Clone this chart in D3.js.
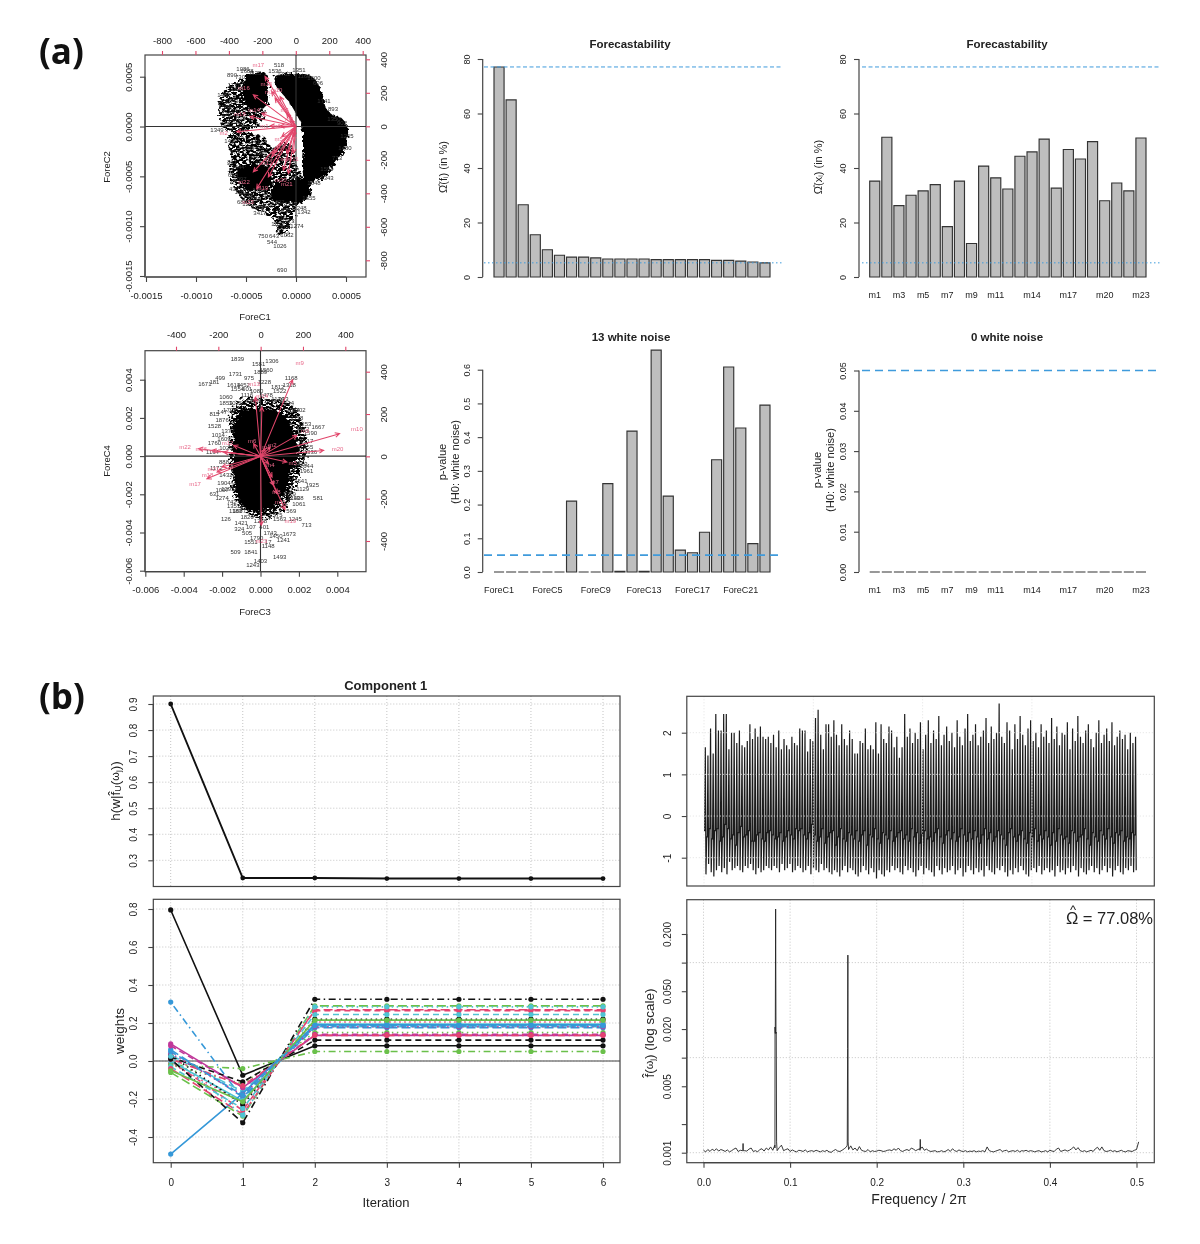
<!DOCTYPE html>
<html>
<head>
<meta charset="utf-8">
<script src="https://cdn.jsdelivr.net/npm/d3@7"></script>
<style>
html,body {margin:0;padding:0;background:#fff;}
svg {display:block;filter:blur(0.35px);}
text {font-family:"Liberation Sans",Arial,sans-serif;fill:#222;}
</style>
</head>
<body>
<div id="Chart"></div>
<script>
//---- values ----
var ComponentForecast = [77.08,65,26.5,15.5,10,8,7.3,7.3,7,6.6,6.6,6.6,6.6,6.4,6.4,6.4,6.4,6.4,6.1,6.1,5.8,5.5,5.2];
var SeriesForecast = [35.2,51.3,26.2,30,31.6,33.9,18.5,35.2,12.3,40.7,36.4,32.3,44.3,45.9,50.6,32.6,46.8,43.3,49.7,28,34.5,31.6,51];
var ComponentPValues = [0,0,0,0,0,0,0.21,0,0,0.262,0.002,0.418,0.002,0.658,0.225,0.065,0.057,0.118,0.333,0.608,0.427,0.084,0.495];
var SeriesPValues = [0,0,0,0,0,0,0,0,0,0,0,0,0,0,0,0,0,0,0,0,0,0,0];
var ComponentNames = ["ForeC1","ForeC2","ForeC3","ForeC4","ForeC5","ForeC6","ForeC7","ForeC8","ForeC9","ForeC10","ForeC11","ForeC12","ForeC13","ForeC14","ForeC15","ForeC16","ForeC17","ForeC18","ForeC19","ForeC20","ForeC21","ForeC22","ForeC23"];
var SeriesNames = ["m1","m2","m3","m4","m5","m6","m7","m8","m9","m10","m11","m12","m13","m14","m15","m16","m17","m18","m19","m20","m21","m22","m23"];
var ComponentTickNames = ["ForeC1","ForeC5","ForeC9","ForeC13","ForeC17","ForeC21"];
var SeriesTickNames = ["m1","m3","m5","m7","m9","m11","m14","m17","m20","m23"];

var LoadingsC1 = [-154,-354,-134,-54,-84,-94,-14,-34,-54,-94,-14,-144,-124,-204,-144,-254,-184,-274,-164,-74,-44,-254,-234];
var LoadingsC2 = [2,-32,-162,78,-62,2,-62,38,-162,178,-162,-182,168,78,208,188,298,58,-302,-262,-282,-272,-372];
var LoadingsC3 = [22,46,172,38,124,-33,54,61,151,373,77,-128,-25,6,-175,-230,-254,-206,115,298,-183,-293,3];
var LoadingsC4 = [36,44,99,-35,-27,60,-98,-137,362,107,-176,52,280,233,20,28,-106,-74,-252,28,-50,36,-326];

// outlines of the solid black parts of the two label clouds
var CloudC12Main = [[-0.00021,0.0005],[-0.00006,0.00053],[0.00016,0.0005],[0.00026,0.00034],[0.0003,0.00019],[0.00036,0.00012],[0.00046,0.00008],[0.00052,-0.00004],[0.00048,-0.00025],[0.0004,-0.00036],[0.00026,-0.00052],[0.00011,-0.00056],[0.00006,-0.0004],[0.00007,-0.0002],[0.00006,0],[0.00001,0.00011],[-0.00008,0.00026],[-0.00019,0.0004]];
var CloudC12Left = [[-0.00049,0.00052],[-0.0003,0.00053],[-0.00028,0.00035],[-0.0003,0.00021],[-0.00042,0.00016],[-0.00052,0.00026]];
var CloudC12LowA = [[-0.00058,-0.00042],[-0.00027,-0.00042],[-0.00027,-0.00062],[-0.00051,-0.00062]];
var CloudC12LowB = [[-0.00023,-0.0006],[0.00013,-0.00054],[0.00012,-0.00072],[-0.00023,-0.00074]];
var CloudC12GreyUp = [[-0.00072,0.00035],[-0.00049,0.0005],[-0.00029,0.00051],[-0.00029,0.00023],[-0.00036,0.00003],[-0.00059,-0.00007],[-0.00074,0],[-0.00077,0.00016]];
var CloudC12GreyLow = [[-0.00066,-0.00009],[-0.00032,-0.0001],[-0.00025,-0.0002],[-0.00006,-0.00017],[0.00001,-0.0004],[0.00008,-0.00054],[0.00011,-0.00067],[0.00001,-0.0008],[-0.00009,-0.00107],[-0.00019,-0.00107],[-0.00022,-0.00094],[-0.00032,-0.00087],[-0.00046,-0.0008],[-0.00059,-0.00067],[-0.00066,-0.0005],[-0.00066,-0.00027]];
var CloudC34Grey = [[-0.0015,0.0026],[-0.0007,0.003],[0.0007,0.003],[0.0017,0.0027],[0.0021,0.002],[0.0024,0.001],[0.0024,0],[0.002,-0.0011],[0.0017,-0.002],[0.0011,-0.0029],[0.0002,-0.0033],[-0.0007,-0.003],[-0.0013,-0.0024],[-0.0015,-0.0014],[-0.0016,-0.0004],[-0.0016,0.0007],[-0.0016,0.0016]];
var CloudC34Dark = [[-0.0012,0.0021],[0,0.0025],[0.0012,0.0021],[0.0018,0.001],[0.0019,0],[0.0015,-0.001],[0.0012,-0.002],[0.0006,-0.0027],[-0.0003,-0.0029],[-0.001,-0.0025],[-0.0013,-0.0015],[-0.0014,-0.0004],[-0.0014,0.0008]];

var LabelsC12 = [["518",-0.00017,0.00062],["1086",-0.00053,0.00058],["1688",-0.00049,0.00056],["890",-0.00064,0.00052],["730",-0.00056,0.0005],["1351",0.00003,0.00057],["1160",0.00008,0.00051],["1600",0.00018,0.00049],["893",0.00037,0.00018],["1343",0.00031,-0.00052],["1655",0.00013,-0.00072],["1274",0.00001,-0.001],["1062",-0.00009,-0.00109],["1026",-0.00016,-0.0012],["690",-0.00014,-0.00144],["750",-0.00033,-0.0011],["643",-0.00022,-0.0011],["544",-0.00024,-0.00116],["3417",-0.00036,-0.00087],["1248",0.00004,-0.00082],["1342",0.00008,-0.00086],["1488",-0.00072,0.00032],["1588",-0.00071,0.0002],["1205",-0.00068,0.00013],["724",-0.00071,0.00003],["1349",-0.00079,-0.00003],["1177",-0.00062,0.00042],["1021",-0.00059,0.00038],["1543",-0.00064,0.00026],["1412",-0.00058,0.00016],["816",-0.00055,0.00009],["1290",-0.00062,0.00005],["1430",-0.00065,-0.00015],["975",-0.00061,-0.00026],["811",-0.00064,-0.00036],["1444",-0.00058,-0.00041],["650",-0.00063,-0.00049],["1097",-0.00056,-0.00053],["432",-0.00062,-0.00063],["1181",-0.00055,-0.00066],["1733",-0.0005,-0.00069],["680",-0.00054,-0.00076],["1215",-0.00047,-0.00078],["1508",-0.00042,-0.00073],["1623",-0.00038,-0.00081],["528",-0.00028,-0.0008],["1376",-0.00044,-0.00032],["1289",-0.00048,-0.00022],["1066",-0.00036,-0.00027],["741",-0.00041,-0.00016],["1555",-0.00034,-0.00037],["905",-0.00028,-0.00032],["1617",-0.00021,-0.00026],["1133",-0.00014,-0.00029],["387",-0.00012,-0.0002],["1709",-0.00037,-0.00064],["263",-0.00029,-0.00069],["1402",-0.00018,-0.00076],["1858",-0.00012,-0.00084],["1119",-0.00005,-0.00078],["934",-0.00015,-0.00092],["1473",-0.00008,-0.00095],["1312",-0.00013,-0.00101],["1827",-0.00018,-0.00098],["606",0.00022,0.00044],["1741",0.00028,0.00026],["1350",0.00038,0.00008],["902",0.00046,0.00004],["1265",0.00051,-0.0001],["1480",0.00049,-0.00022],["773",0.00041,-0.00032],["1594",0.00031,-0.00043],["1048",0.00018,-0.00057],["1536",-0.00021,0.00056],["1762",-0.00012,0.00053],["1125",-0.00041,0.00054]];
var LabelsC34 = [["1839",-0.0012,0.0051],["1306",0.0006,0.005],["1581",-0.0001,0.0048],["1889",0,0.0044],["1560",0.0003,0.0045],["1731",-0.0013,0.0043],["975",-0.0006,0.0041],["1168",0.0016,0.0041],["499",-0.0021,0.0041],["181",-0.0024,0.0039],["1671",-0.0029,0.0038],["1228",0.0002,0.0039],["1812",0.0009,0.0036],["1318",0.0015,0.0037],["1522",0.001,0.0034],["1614",-0.0014,0.0037],["1452",-0.0009,0.0037],["1554",-0.0012,0.0035],["601",-0.0007,0.0035],["1080",-0.0002,0.0034],["1060",-0.0018,0.0031],["1853",-0.0018,0.0028],["1124",0.0009,0.003],["1534",0.0014,0.0028],["1884",0.0017,0.0024],["815",-0.0024,0.0022],["147",-0.002,0.0023],["1876",-0.002,0.0019],["1528",-0.0024,0.0016],["1014",-0.0022,0.0011],["1667",0.003,0.0015],["1412",0.0022,0.0014],["1158",0.0019,0.002],["1017",0.0024,0.0008],["1655",0.0024,0.0005],["1760",-0.0024,0.0007],["1194",-0.0025,0.0002],["1813",0.0021,-0.0004],["1961",0.0024,-0.0008],["1541",0.0021,-0.0013],["1925",0.0027,-0.0015],["581",0.003,-0.0022],["1089",0.0015,-0.002],["1213",0.0017,-0.0022],["1061",0.002,-0.0025],["569",0.0016,-0.0029],["1245",0.0018,-0.0033],["713",0.0024,-0.0036],["1563",0.001,-0.0033],["126",-0.0018,-0.0033],["1421",-0.001,-0.0035],["324",-0.0011,-0.0038],["107",-0.0005,-0.0037],["401",0.0002,-0.0037],["1673",0.0015,-0.0041],["1241",0.0012,-0.0044],["1551",-0.0005,-0.0045],["509",-0.0013,-0.005],["1841",-0.0005,-0.005],["1493",0.001,-0.0053],["1403",0,-0.0055],["1243",-0.0004,-0.0057],["631",-0.0024,-0.002],["1274",-0.002,-0.0022],["1007",-0.002,-0.0018],["1904",-0.0019,-0.0014],["1172",-0.0023,-0.0006],["1351",-0.0014,-0.0026],["1087",-0.0011,-0.0029],["505",-0.0007,-0.004],["1743",0.0005,-0.004],["1450",0.0008,-0.0042],["1790",-0.0002,-0.0043],["17",0.0004,-0.0045],["1148",0.0004,-0.0047],["1377",-0.0017,0.0013],["1609",-0.0019,0.0009],["1026",-0.0018,0.0004],["888",-0.0019,-0.0003],["1432",-0.0018,-0.001],["1295",-0.0017,-0.0017],["742",-0.0015,-0.0024],["1116",-0.0007,0.0032],["1478",0.0003,0.0032],["933",0.0012,0.003],["1702",0.002,0.0024],["1253",0.0023,0.0017],["1590",0.0026,0.0012],["1336",0.0026,0.0002],["1644",0.0024,-0.0005],["1129",0.0022,-0.0017],["1408",0.0019,-0.0022],["1575",0.0008,-0.0031],["1268",0,-0.0034],["1820",-0.0007,-0.0032],["1183",-0.0013,-0.0029],["1344",0.0005,0.0029],["1497",-0.0004,0.0029],["1035",-0.0013,0.0028],["1722",-0.0016,0.0024]];

var ObjectiveValues = [0.9,0.232,0.232,0.23,0.23,0.23,0.23];
var IterationTicks = [0,1,2,3,4,5,6];
// one entry per series m1..m23; iterations 2 to 6 are all flat at WeightsFinal
var WeightsStart = [0.795,0,-0.02,0.31,0.03,0.09,0.02,-0.01,-0.02,0.06,0,0.08,0.03,0.01,-0.06,-0.49,-0.03,0.04,0.01,-0.04,-0.05,0.05,0.025];
var WeightsFirst = [-0.075,-0.26,-0.12,-0.2,-0.16,-0.14,-0.11,-0.22,-0.04,-0.19,-0.21,-0.14,-0.23,-0.13,-0.29,-0.17,-0.25,-0.18,-0.325,-0.28,-0.215,-0.18,-0.285];
var WeightsFinal = [0.08,0.265,0.15,0.19,0.18,0.135,0.11,0.205,0.05,0.175,0.195,0.14,0.22,0.135,0.29,0.19,0.245,0.18,0.325,0.27,0.215,0.185,0.285];

// top, bottom and middle of every 12 step cycle of the first component
var SeriesHigh = [1.65,1.45,2.1,1.5,2.45,2.05,2.05,2.45,2.45,1.6,2.0,2.0,1.75,2.05,1.7,1.65,1.8,2.2,1.85,2.1,1.9,2.15,1.9,1.85,1.9,1.75,1.95,1.65,2.05,1.6,1.85,1.7,1.6,1.9,1.75,1.7,2.1,2.05,2.05,1.55,1.85,1.8,2.35,2.55,1.95,1.6,2.2,2.2,1.9,2.3,1.95,1.7,2.2,1.85,1.7,2.05,1.85,1.5,1.5,1.8,1.75,2.1,1.6,1.7,1.6,2.25,1.5,2.2,1.85,1.75,2.15,2.05,1.65,1.9,1.4,1.65,2.45,1.9,2.1,1.75,2.0,1.85,2.25,1.6,1.95,2.3,1.75,2.05,1.85,2.4,1.7,1.95,2.15,1.8,2.0,1.65,2.3,1.9,1.7,2.1,2.45,1.8,1.95,2.2,1.7,1.9,2.05,2.35,1.75,2.15,1.85,2.0,2.7,1.9,1.75,2.25,2.05,1.6,2.2,1.85,2.4,1.95,1.7,2.1,2.3,1.8,2.0,1.65,2.2,1.9,2.05,1.75,2.35,1.85,2.15,1.7,2.0,1.95,2.25,1.6,2.1,1.8,2.4,1.9,1.75,2.05,2.2,1.85,1.65,2.0,2.3,1.75,1.95,2.1,1.8,2.25,1.7,1.9,2.05,1.85,1.95,1.6,2.0,1.75,1.9];
var SeriesLow = [-1.4,-1.15,-1.35,-1.45,-1.3,-1.2,-1.35,-1.25,-1.4,-1.1,-1.3,-1.25,-1.2,-1.3,-1.35,-1.2,-1.25,-1.15,-1.3,-1.4,-1.25,-1.35,-1.3,-1.2,-1.25,-1.3,-1.2,-1.25,-1.35,-1.15,-1.3,-1.25,-1.15,-1.35,-1.3,-1.2,-1.25,-1.35,-1.3,-1.2,-1.4,-1.25,-1.3,-1.35,-1.15,-1.3,-1.25,-1.35,-1.4,-1.3,-1.35,-1.45,-1.3,-1.2,-1.35,-1.25,-1.3,-1.4,-1.45,-1.35,-1.2,-1.3,-1.4,-1.25,-1.35,-1.5,-1.3,-1.4,-1.45,-1.3,-1.35,-1.2,-1.3,-1.25,-1.35,-1.4,-1.2,-1.3,-1.25,-1.35,-1.45,-1.3,-1.2,-1.4,-1.25,-1.3,-1.35,-1.45,-1.2,-1.3,-1.4,-1.25,-1.35,-1.3,-1.2,-1.4,-1.3,-1.25,-1.45,-1.35,-1.2,-1.3,-1.4,-1.25,-1.35,-1.3,-1.45,-1.2,-1.3,-1.35,-1.4,-1.25,-1.3,-1.2,-1.35,-1.45,-1.3,-1.4,-1.25,-1.35,-1.2,-1.3,-1.4,-1.45,-1.3,-1.25,-1.35,-1.2,-1.4,-1.3,-1.25,-1.35,-1.3,-1.45,-1.2,-1.35,-1.3,-1.4,-1.25,-1.35,-1.2,-1.3,-1.45,-1.25,-1.35,-1.4,-1.3,-1.2,-1.35,-1.25,-1.4,-1.3,-1.2,-1.35,-1.25,-1.45,-1.3,-1.2,-1.35,-1.4,-1.25,-1.3,-1.2,-1.35,-1.3];
var SeriesMid = [-0.35,-0.5,-0.3,-0.55,-0.35,-0.3,-0.6,-0.5,-0.2,-0.3,-0.55,-0.45,-0.7,-0.4,-0.25,-0.5,-0.45,-0.35,-0.6,-0.6,-0.45,-0.4,-0.55,-0.6,-0.4,-0.35,-0.45,-0.55,-0.5,-0.4,-0.6,-0.5,-0.35,-0.45,-0.55,-0.3,-0.35,-0.3,-0.45,-0.55,-0.4,-0.2,-0.45,-0.6,-0.5,-0.3,-0.65,-0.5,-0.4,-0.35,-0.7,-0.5,-0.3,-0.55,-0.6,-0.4,-0.45,-0.55,-0.35,-0.6,-0.45,-0.35,-0.7,-0.45,-0.5,-0.3,-0.55,-0.65,-0.4,-0.45,-0.55,-0.35,-0.6,-0.5,-0.4,-0.35,-0.55,-0.45,-0.6,-0.3,-0.5,-0.4,-0.65,-0.45,-0.35,-0.55,-0.5,-0.6,-0.4,-0.3,-0.5,-0.65,-0.45,-0.35,-0.55,-0.4,-0.6,-0.5,-0.3,-0.45,-0.6,-0.4,-0.55,-0.35,-0.5,-0.65,-0.45,-0.3,-0.55,-0.4,-0.6,-0.5,-0.35,-0.45,-0.55,-0.7,-0.4,-0.3,-0.5,-0.6,-0.45,-0.35,-0.55,-0.65,-0.4,-0.5,-0.3,-0.6,-0.45,-0.55,-0.35,-0.5,-0.7,-0.4,-0.6,-0.3,-0.45,-0.55,-0.5,-0.65,-0.35,-0.4,-0.6,-0.5,-0.45,-0.3,-0.55,-0.7,-0.4,-0.5,-0.6,-0.35,-0.45,-0.55,-0.3,-0.5,-0.65,-0.4,-0.45,-0.35,-0.6,-0.5,-0.55,-0.4,-0.45];

// spectrum floor at steps of 0.0025 in units of 0.001, spikes listed apart
var SpectrumFloor = [1.06,1.02,1.08,1.03,1.09,1.05,1.1,1.04,1.08,1.06,1.03,1.07,1.02,1.05,1.09,1.12,1.03,1.06,1.05,1.05,1.04,1.09,1.12,1.03,1.05,1.02,1.08,1.1,1.04,1.12,1.07,1.15,1.06,1.12,1.05,1.13,1.2,1.05,1.08,1.1,1.03,1.07,1.04,1.02,1.06,1.05,1.03,1.07,1.02,1.04,1.05,1.03,1.06,1.04,1.02,1.05,1.03,1.06,1.02,1.01,1.05,1.08,1.04,1.03,1.06,1.1,1.15,1.08,1.18,1.07,1.12,1.05,1.16,1.06,1.04,1.03,1.08,1.02,1.05,1.03,1.04,1.06,1.05,1.03,1.04,1.06,1.07,1.05,1.1,1.06,1.12,1.05,1.03,1.06,1.08,1.05,1.12,1.09,1.05,1.08,1.06,1.15,1.06,1.09,1.05,1.03,1.04,1.05,1.02,1.03,1.05,1.02,1.04,1.08,1.03,1.1,1.05,1.03,1.07,1.04,1.03,1.05,1.02,1.04,1.03,1.05,1.02,1.04,1.03,1.05,1.02,1.15,1.05,1.03,1.02,1.04,1.06,1.08,1.03,1.05,1.06,1.02,1.04,1.05,1.03,1.06,1.02,1.05,1.04,1.06,1.03,1.05,1.04,1.02,1.04,1.05,1.02,1.03,1.05,1.02,1.06,1.04,1.03,1.09,1.12,1.03,1.05,1.07,1.04,1.06,1.1,1.15,1.07,1.13,1.05,1.03,1.05,1.02,1.04,1.06,1.03,1.1,1.14,1.06,1.15,1.05,1.03,1.04,1.06,1.03,1.05,1.02,1.04,1.06,1.03,1.02,1.05,1.04,1.03,1.06,1.08,1.3];
var SpectrumSpikeFreq = [0.0455,0.0457,0.0459,0.0824,0.0826,0.0829,0.0833,0.0837,0.084,0.0844,0.166,0.1664,0.1667,0.167,0.2499,0.2503,0.2506];
var SpectrumSpikeValue = [0.00105,0.00125,0.00105,0.0012,0.021,0.018,0.366,0.018,0.0185,0.0013,0.0012,0.0125,0.12,0.0013,0.0011,0.00138,0.0011];
var SpectrumTicks = [0.001,0.002,0.005,0.01,0.02,0.05,0.1,0.2];
var SpectrumTickLabels = ["0.001","","0.005","","0.020","0.050","","0.200"];
var SpectrumGrid = [0.001,0.01,0.1];

//---- styling ----
var RPalette = ["#111111","#e4436f","#6ac04a","#3598d8","#4fc3d3","#c0389a"];
var RDashes = [null,"6 4","1.5 3.5","1.5 3.5 7 3.5","9 4"];
var ArrowRed = "#e2466b";
var AxisColor = "#444";
var GridColor = "#c4c4c4";

var svg = d3.select("#Chart").append("svg").attr("width",1200).attr("height",1244);
var defs = svg.append("defs");
var Rough = defs.append("filter").attr("id","RoughEdge").attr("x","-15%").attr("y","-15%").attr("width","130%").attr("height","130%");
Rough.append("feTurbulence").attr("type","fractalNoise").attr("baseFrequency",0.28).attr("numOctaves",2).attr("seed",4).attr("result","n");
Rough.append("feDisplacementMap").attr("in","SourceGraphic").attr("in2","n").attr("scale",8).attr("result","d");
Rough.append("feGaussianBlur").attr("in","d").attr("stdDeviation",0.5);
// same edge, plus a speckle so a region reads as many overlapping labels
var Speckle = defs.append("filter").attr("id","Speckle").attr("x","-15%").attr("y","-15%").attr("width","130%").attr("height","130%");
Speckle.append("feTurbulence").attr("type","fractalNoise").attr("baseFrequency",0.28).attr("numOctaves",2).attr("seed",4).attr("result","n");
Speckle.append("feDisplacementMap").attr("in","SourceGraphic").attr("in2","n").attr("scale",10).attr("result","d");
Speckle.append("feTurbulence").attr("type","fractalNoise").attr("baseFrequency","0.3 0.55").attr("numOctaves",3).attr("seed",9).attr("result","t");
Speckle.append("feColorMatrix").attr("in","t").attr("type","matrix").attr("values","0 0 0 0 0  0 0 0 0 0  0 0 0 0 0  7 0 0 0 -2.6").attr("result","a");
Speckle.append("feComposite").attr("in","a").attr("in2","d").attr("operator","in").attr("result","c");
Speckle.append("feGaussianBlur").attr("in","c").attr("stdDeviation",0.45);

// R style axis: ticks outward, labels turned along the axis when it is vertical
function DrawAxis(Scale,Side,Pos,Ticks,Format,Dist,Opts) {
	Opts = Opts || {};
	var Maker = {bottom:d3.axisBottom,top:d3.axisTop,left:d3.axisLeft,right:d3.axisRight}[Side];
	var Horizontal = Side === "bottom" || Side === "top";
	var Axis = Maker(Scale).tickValues(Ticks).tickFormat(Format).tickSizeInner(Opts.TickSize || 5).tickSizeOuter(0);
	var G = svg.append("g").attr("transform",Horizontal ? "translate(0,"+Pos+")" : "translate("+Pos+",0)").call(Axis);
	G.select(".domain").attr("stroke",Opts.TickColor || AxisColor).attr("stroke-width",1.2).attr("d",function() {
		var a = Scale(Ticks[0]), b = Scale(Ticks[Ticks.length-1]);
		return Horizontal ? "M"+a+",0H"+b : "M0,"+a+"V"+b;
	});
	G.selectAll(".tick line").attr("stroke",Opts.TickColor || AxisColor).attr("stroke-width",1.1);
	var Labels = G.selectAll(".tick text").attr("font-size",Opts.FontSize || 9).attr("font-family",null).attr("fill","#222");
	if (Horizontal) {
		Labels.attr("y",null).attr("dy",null).attr("text-anchor","middle").attr("dominant-baseline","central").attr("y",Side === "bottom" ? Dist : -Dist);
	}
	else {
		Labels.attr("x",0).attr("dy",null).attr("text-anchor","middle").attr("dominant-baseline","central").attr("transform","rotate(-90)").attr("y",Side === "left" ? -Dist : Dist);
	}
	if (Opts.NoLine) G.select(".domain").remove();
	if (Opts.NoTicks) G.selectAll(".tick line").remove();
	return G;
}

function Label(x,y,Text,Size,Opts) {
	Opts = Opts || {};
	var t = svg.append("text").attr("x",x).attr("y",y).attr("text-anchor",Opts.Anchor || "middle").attr("dominant-baseline",Opts.Baseline || "central").attr("font-size",Size).text(Text);
	if (Opts.Bold) t.attr("font-weight","bold");
	if (Opts.Rotate) t.attr("transform","rotate(-90,"+x+","+y+")");
	return t;
}

function Box(x0,y0,x1,y1) {
	svg.append("rect").attr("x",x0).attr("y",y0).attr("width",x1-x0).attr("height",y1-y0).attr("fill","none").attr("stroke",AxisColor).attr("stroke-width",1.2);
}

function Blob(Points,X,Y,Filter) {
	svg.append("path").attr("d",d3.line().x(function(d) {return X(d[0]);}).y(function(d) {return Y(d[1]);}).curve(d3.curveCatmullRomClosed)(Points))
		.attr("fill","#000").attr("filter","url(#"+Filter+")");
}

//---- biplots ----
function DrawBiplot(Cfg) {
	Box(Cfg.Box[0],Cfg.Box[1],Cfg.Box[2],Cfg.Box[3]);
	Cfg.Blobs.forEach(function(b) {Blob(b[0],Cfg.X,Cfg.Y,b[1]);});
	svg.append("g").selectAll("text").data(Cfg.Labels).enter().append("text")
		.attr("x",function(d) {return Cfg.X(d[1]);}).attr("y",function(d) {return Cfg.Y(d[2]);})
		.attr("text-anchor","middle").attr("dominant-baseline","central").attr("font-size",6).style("fill","#333")
		.text(function(d) {return d[0];});

	svg.append("line").attr("x1",Cfg.Box[0]).attr("x2",Cfg.Box[2]).attr("y1",Cfg.Y(0)).attr("y2",Cfg.Y(0)).attr("stroke","#333").attr("stroke-width",1.1);
	svg.append("line").attr("y1",Cfg.Box[1]).attr("y2",Cfg.Box[3]).attr("x1",Cfg.X(0)).attr("x2",Cfg.X(0)).attr("stroke","#333").attr("stroke-width",1.1);

	var Arrows = svg.append("g").attr("stroke",ArrowRed).attr("stroke-width",1.05).attr("fill","none");
	SeriesNames.forEach(function(Name,i) {
		var x0 = Cfg.TopX(0), y0 = Cfg.RightY(0), x1 = Cfg.TopX(Cfg.LoadX[i]), y1 = Cfg.RightY(Cfg.LoadY[i]);
		var a = Math.atan2(y1-y0,x1-x0);
		Arrows.append("path").attr("d","M"+x0+","+y0+"L"+x1+","+y1+
			"M"+(x1-5*Math.cos(a-0.45))+","+(y1-5*Math.sin(a-0.45))+"L"+x1+","+y1+"L"+(x1-5*Math.cos(a+0.45))+","+(y1-5*Math.sin(a+0.45)));
		svg.append("text").attr("x",Cfg.TopX(Cfg.LoadX[i]*1.22)).attr("y",Cfg.RightY(Cfg.LoadY[i]*1.22))
			.attr("text-anchor","middle").attr("dominant-baseline","central").attr("font-size",6).style("fill","#e8688a").text(Name);
	});

	var Sci = function(d) {return d.toFixed(Cfg.Digits);};
	DrawAxis(Cfg.X,"bottom",Cfg.Box[3],Cfg.Ticks,Sci,Cfg.BottomDist,{FontSize:9.5});
	DrawAxis(Cfg.Y,"left",Cfg.Box[0],Cfg.YTicks,Sci,17,{FontSize:9.5});
	DrawAxis(Cfg.TopX,"top",Cfg.Box[1],Cfg.TopTicks,String,Cfg.TopDist,{TickColor:ArrowRed,TickSize:4,NoLine:true,FontSize:9.5});
	DrawAxis(Cfg.RightY,"right",Cfg.Box[2],Cfg.RightTicks,String,17,{TickColor:ArrowRed,TickSize:4,NoLine:true,FontSize:9.5});
	Label(255,Cfg.Box[3]+Cfg.TitleDist,Cfg.XTitle,9.5);
	Label(106,Cfg.TitleY,Cfg.YTitle,9.5,{Rotate:true});
}

DrawBiplot({
	Box:[145,55,366,277],
	X:d3.scaleLinear().domain([-0.0015,0.0005]).range([146,346]),
	Y:d3.scaleLinear().domain([-0.0015,0.0005]).range([276,76.7]),
	TopX:d3.scaleLinear().domain([-800,400]).range([162,362.7]),
	RightY:d3.scaleLinear().domain([-800,400]).range([260.3,59.3]),
	LoadX:LoadingsC1, LoadY:LoadingsC2,
	Labels:LabelsC12,
	Blobs:[[CloudC12GreyUp,"Speckle"],[CloudC12GreyLow,"Speckle"],[CloudC12Left,"RoughEdge"],[CloudC12LowA,"RoughEdge"],[CloudC12LowB,"RoughEdge"],[CloudC12Main,"RoughEdge"]],
	Digits:4,
	Ticks:[-0.0015,-0.001,-0.0005,0,0.0005],
	YTicks:[-0.0015,-0.001,-0.0005,0,0.0005],
	TopTicks:[-800,-600,-400,-200,0,200,400],
	RightTicks:[-800,-600,-400,-200,0,200,400],
	BottomDist:18,TopDist:15,TitleDist:39.5,TitleY:167,
	XTitle:"ForeC1",YTitle:"ForeC2"
});

DrawBiplot({
	Box:[145,350.7,366,571.7],
	X:d3.scaleLinear().domain([-0.006,0.004]).range([145.3,337.3]),
	Y:d3.scaleLinear().domain([-0.006,0.004]).range([570.7,379.7]),
	TopX:d3.scaleLinear().domain([-400,400]).range([176,345.3]),
	RightY:d3.scaleLinear().domain([-400,400]).range([541,371.7]),
	LoadX:LoadingsC3, LoadY:LoadingsC4,
	Labels:LabelsC34,
	Blobs:[[CloudC34Grey,"Speckle"],[CloudC34Dark,"RoughEdge"]],
	Digits:3,
	Ticks:[-0.006,-0.004,-0.002,0,0.002,0.004],
	YTicks:[-0.006,-0.004,-0.002,0,0.002,0.004],
	TopTicks:[-400,-200,0,200,400],
	RightTicks:[-400,-200,0,200,400],
	BottomDist:17.5,TopDist:16.5,TitleDist:40,TitleY:461,
	XTitle:"ForeC3",YTitle:"ForeC4"
});

//---- bar panels ----
function DrawBars(Cfg) {
	var X = d3.scaleBand().domain(d3.range(Cfg.Values.length)).range(Cfg.XRange).paddingInner(1/6).paddingOuter(0);
	var Y = d3.scaleLinear().domain(Cfg.YDomain).range(Cfg.YRange);
	// paths and not rects, a rect of height zero draws nothing
	svg.append("g").selectAll("path").data(Cfg.Values).enter().append("path")
		.attr("d",function(d,i) {return "M"+X(i)+","+Y(0)+"V"+Y(d)+"H"+(X(i)+X.bandwidth())+"V"+Y(0)+"Z";})
		.attr("fill","#bebebe").attr("stroke","#333").attr("stroke-width",1.15);
	Cfg.Lines.forEach(function(l) {
		svg.append("line").attr("x1",Cfg.LineRange[0]).attr("x2",Cfg.LineRange[1]).attr("y1",Y(l.Value)).attr("y2",Y(l.Value))
			.attr("stroke","#3f9bdc").attr("stroke-width",l.Width).attr("stroke-dasharray",l.Dash);
	});
	DrawAxis(Y,"left",Cfg.AxisX,Cfg.YTicks,Cfg.YFormat,16);
	if (Cfg.TickNames) {
		Cfg.TickNames.forEach(function(Name) {
			var i = Cfg.Names.indexOf(Name);
			Label(X(i)+X.bandwidth()/2,Cfg.TickY,Name,9);
		});
	}
	Label(Cfg.TitleX,Cfg.TitleY,Cfg.Title,11.5,{Bold:true});
	Cfg.YTitle();
}

function HatLabel(x,y,Base,Sub,Tail,Size) {
	var t = Label(x,y,null,Size,{Rotate:true});
	t.append("tspan").text(Base);
	t.append("tspan").attr("font-size",Size*0.65).attr("dy",Size*0.25).text(Sub);
	t.append("tspan").attr("dy",-Size*0.25).text(Tail);
}

var Pct = function(d) {return String(d);};
var Dec2 = function(d) {return d.toFixed(2);};
var Dec1 = function(d) {return d.toFixed(1);};

DrawBars({Values:ComponentForecast,XRange:[494,770],YDomain:[0,80],YRange:[277,59],
	Lines:[{Value:77.08,Width:1,Dash:"4 2.5"},{Value:5.2,Width:1,Dash:"1.5 2.5"}],LineRange:[484,782],
	AxisX:482.7,YTicks:[0,20,40,60,80],YFormat:Pct,Title:"Forecastability",TitleX:630,TitleY:43.5,
	YTitle:function() {HatLabel(443,167,"\u03A9\u0302(f","i",")  (in %)",11);}});

DrawBars({Values:SeriesForecast,XRange:[869.7,1146],YDomain:[0,80],YRange:[277,59],
	Lines:[{Value:77.08,Width:1,Dash:"4 2.5"},{Value:5.2,Width:1,Dash:"1.5 2.5"}],LineRange:[862,1160],
	AxisX:859,YTicks:[0,20,40,60,80],YFormat:Pct,Names:SeriesNames,TickNames:SeriesTickNames,TickY:295,
	Title:"Forecastability",TitleX:1007,TitleY:43.5,
	YTitle:function() {HatLabel(818,167,"\u03A9\u0302(x","i",")  (in %)",11);}});

DrawBars({Values:ComponentPValues,XRange:[494,770],YDomain:[0,0.6],YRange:[572,369.7],
	Lines:[{Value:0.05,Width:1.6,Dash:"8 5"}],LineRange:[484,782],
	AxisX:482.7,YTicks:[0,0.1,0.2,0.3,0.4,0.5,0.6],YFormat:Dec1,Names:ComponentNames,TickNames:ComponentTickNames,TickY:589.5,
	Title:"13 white noise",TitleX:631,TitleY:337,
	YTitle:function() {Label(442,462,"p-value",11.2,{Rotate:true});Label(455,462,"(H0: white noise)",11.2,{Rotate:true});}});

DrawBars({Values:SeriesPValues,XRange:[869.7,1146],YDomain:[0,0.05],YRange:[572,370.5],
	Lines:[{Value:0.05,Width:1.6,Dash:"8 5"}],LineRange:[862,1160],
	AxisX:859,YTicks:[0,0.01,0.02,0.03,0.04,0.05],YFormat:Dec2,Names:SeriesNames,TickNames:SeriesTickNames,TickY:589.5,
	Title:"0 white noise",TitleX:1007,TitleY:337,
	YTitle:function() {Label(817,470,"p-value",11.2,{Rotate:true});Label(830,470,"(H0: white noise)",11.2,{Rotate:true});}});

//---- panel (b) ----
var IterX = d3.scaleLinear().domain([0,6]).range([170.7,603]);

function GridLines(XVals,YVals,X,Y,Box4,Color) {
	var g = svg.append("g").attr("stroke",Color || GridColor).attr("stroke-width",1).attr("stroke-dasharray","1 2");
	XVals.forEach(function(v) {g.append("line").attr("x1",X(v)).attr("x2",X(v)).attr("y1",Box4[1]).attr("y2",Box4[3]);});
	YVals.forEach(function(v) {g.append("line").attr("x1",Box4[0]).attr("x2",Box4[2]).attr("y1",Y(v)).attr("y2",Y(v));});
}

// objective
var ObjY = d3.scaleLinear().domain([0.3,0.9]).range([860.3,704]);
var ObjBox = [153.3,696,620,886.5];
GridLines(IterationTicks,[0.3,0.4,0.5,0.6,0.7,0.8,0.9],IterX,ObjY,ObjBox);
svg.append("path").attr("fill","none").attr("stroke","#111").attr("stroke-width",1.9)
	.attr("d",d3.line().x(function(d,i) {return IterX(i);}).y(function(d) {return ObjY(d);})(ObjectiveValues));
svg.append("g").selectAll("circle").data(ObjectiveValues).enter().append("circle")
	.attr("cx",function(d,i) {return IterX(i);}).attr("cy",function(d) {return ObjY(d);}).attr("r",2.4).attr("fill","#111");
Box(ObjBox[0],ObjBox[1],ObjBox[2],ObjBox[3]);
DrawAxis(ObjY,"left",ObjBox[0],[0.3,0.4,0.5,0.6,0.7,0.8,0.9],Dec1,20,{FontSize:10});
Label(385.7,685,"Component 1",13,{Bold:true});
var ObjLabel = Label(115,791,null,13.5,{Rotate:true});
ObjLabel.append("tspan").text("h(w|f\u0302");
ObjLabel.append("tspan").attr("font-size",9).attr("dy",3).text("U");
ObjLabel.append("tspan").attr("dy",-3).text("(");
ObjLabel.append("tspan").attr("font-size",11).text("\u03C9");
ObjLabel.append("tspan").attr("font-size",8).attr("dy",3).text("j");
ObjLabel.append("tspan").attr("dy",-3).text("))");

// weights
var WeightY = d3.scaleLinear().domain([-0.4,0.8]).range([1137,909]);
var WeightBox = [153.3,899.3,620,1162.7];
var WeightTicks = [-0.4,-0.2,0,0.2,0.4,0.6,0.8];
GridLines(IterationTicks,WeightTicks,IterX,WeightY,WeightBox);
svg.append("line").attr("x1",WeightBox[0]).attr("x2",WeightBox[2]).attr("y1",WeightY(0)).attr("y2",WeightY(0)).attr("stroke","#444").attr("stroke-width",1.2);
var WeightLine = d3.line().x(function(d,i) {return IterX(i);}).y(function(d) {return WeightY(d);});
SeriesNames.forEach(function(Name,i) {
	var Path = [WeightsStart[i],WeightsFirst[i]].concat(IterationTicks.slice(2).map(function() {return WeightsFinal[i];}));
	svg.append("path").attr("fill","none").attr("stroke",RPalette[i%6]).attr("stroke-width",1.6)
		.attr("stroke-dasharray",RDashes[i%5]).attr("d",WeightLine(Path));
	svg.append("g").selectAll("circle").data(Path).enter().append("circle")
		.attr("cx",function(d,j) {return IterX(j);}).attr("cy",function(d) {return WeightY(d);}).attr("r",2.6).attr("fill",RPalette[i%6]);
});
Box(WeightBox[0],WeightBox[1],WeightBox[2],WeightBox[3]);
DrawAxis(WeightY,"left",WeightBox[0],WeightTicks,Dec1,20,{FontSize:10});
DrawAxis(IterX,"bottom",WeightBox[3],IterationTicks,String,19.5,{FontSize:10});
Label(386,1202,"Iteration",13);
Label(119,1031,"weights",13.5,{Rotate:true});

// component series
var SeriesX = d3.scaleLinear().domain([0,1976]).range([704,1136]);
var SeriesY = d3.scaleLinear().domain([-1,2]).range([857.7,732.7]);
var SeriesBox = [686.8,696.3,1154.3,886];
var SeriesPoints = [];
SeriesHigh.forEach(function(h,i) {
	SeriesPoints.push([12*i,SeriesMid[i]]);
	SeriesPoints.push([12*i+3,SeriesMid[i]]);
	SeriesPoints.push([12*i+6,h]);
	SeriesPoints.push([12*i+9,SeriesLow[i]]);
});
svg.append("path").attr("fill","none").attr("stroke","#1c1c1c").attr("stroke-width",1.2)
	.attr("d",d3.line().x(function(d) {return SeriesX(d[0]);}).y(function(d) {return SeriesY(d[1]);})(SeriesPoints));
GridLines([0,500,1000,1500],[-1,0,1,2],SeriesX,SeriesY,SeriesBox,"#e2e2e2");
Box(SeriesBox[0],SeriesBox[1],SeriesBox[2],SeriesBox[3]);
DrawAxis(SeriesY,"left",SeriesBox[0],[-1,0,1,2],String,19,{FontSize:10,NoLine:true});

// spectrum
var SpecX = d3.scaleLinear().domain([0,0.5]).range([703.5,1136.5]);
var SpecY = d3.scaleLog().domain([0.001,0.2]).range([1152.7,934]);
var SpecBox = [686.8,899.7,1154.3,1162.7];
GridLines([0,0.1,0.2,0.3,0.4,0.5],SpectrumGrid,SpecX,SpecY,SpecBox);
var SpecPoints = SpectrumFloor.map(function(v,i) {return [i*0.0025,v/1000];});
SpectrumSpikeFreq.forEach(function(f,i) {SpecPoints.push([f,SpectrumSpikeValue[i]]);});
SpecPoints = d3.sort(SpecPoints,function(d) {return d[0];});
svg.append("path").attr("fill","none").attr("stroke","#222").attr("stroke-width",0.9)
	.attr("d",d3.line().x(function(d) {return SpecX(d[0]);}).y(function(d) {return SpecY(d[1]);})(SpecPoints));
Box(SpecBox[0],SpecBox[1],SpecBox[2],SpecBox[3]);
DrawAxis(SpecY,"left",SpecBox[0],SpectrumTicks,function(d,i) {return SpectrumTickLabels[i];},19,{FontSize:10});
DrawAxis(SpecX,"bottom",SpecBox[3],[0,0.1,0.2,0.3,0.4,0.5],Dec1,19.5,{FontSize:10});
Label(919,1199,"Frequency / 2\u03C0",14);
var SpecLabel = Label(649,1033,null,13.5,{Rotate:true});
SpecLabel.append("tspan").text("f\u0302(");
SpecLabel.append("tspan").attr("font-size",11).text("\u03C9");
SpecLabel.append("tspan").attr("font-size",8).attr("dy",3).text("j");
SpecLabel.append("tspan").attr("dy",-3).text(")  (log scale)");
Label(1153,924,"\u03A9 = 77.08%",16.5,{Anchor:"end",Baseline:"auto"});
Label(1073,914,"^",13,{Baseline:"auto"});

//---- panel letters ----
svg.append("text").attr("x",39).attr("y",64).attr("font-size",35).attr("font-weight","bold").style("font-family","'Open Sans',Lato,sans-serif").style("fill","#111").text("(a)");
svg.append("text").attr("x",39).attr("y",709).attr("font-size",35).attr("font-weight","bold").style("font-family","'Open Sans',Lato,sans-serif").style("fill","#111").text("(b)");
</script>
</body>
</html>
